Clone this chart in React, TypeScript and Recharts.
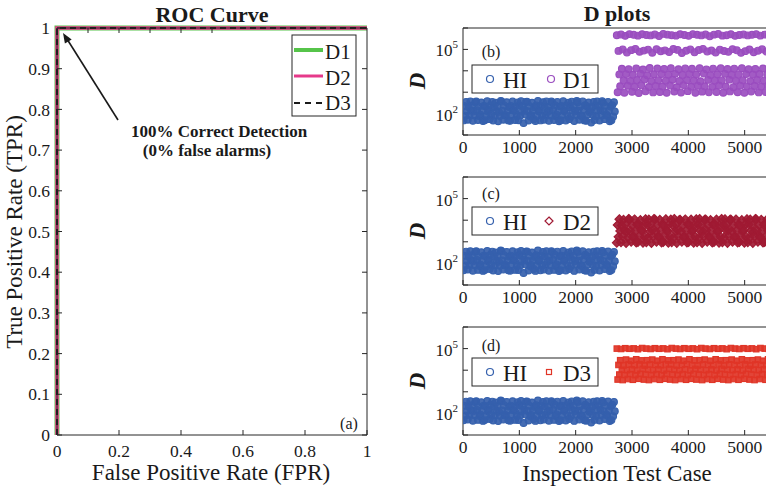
import { LineChart, Line, ScatterChart, Scatter, XAxis, YAxis } from "recharts";

const SERIF = '"Liberation Serif", "Times New Roman", serif';
const AXIS = "#262626";
const INK = "#1a1a1a";

// ROC curves (a)
const FPR = [0, 0, 1];
const TPR_D1 = [0, 1, 1];
const TPR_D2 = [0, 1, 1];
const TPR_D3 = [0, 1, 1];
const ROC_X_TICKS = [0, 0.2, 0.4, 0.6, 0.8, 1];
const ROC_Y_TICKS = [0, 0.1, 0.2, 0.3, 0.4, 0.5, 0.6, 0.7, 0.8, 0.9, 1];

// D plots (b)-(d), one value every CASE_STEP test cases
const CASE_TICKS = [0, 1000, 2000, 3000, 4000, 5000];
const D_TICKS = [10, 1e2, 1e3, 1e4, 1e5, 1e6];
const D_LABELED = [1e2, 1e5];
const HI_FIRST_CASE = 10;
const D_FIRST_CASE = 2730;
const CASE_STEP = 15;

const HI = [
  48, 225, 80, 350, 130, 52, 205, 85, 370, 138,
  240, 46, 128, 82, 340, 365, 145, 50, 212, 76,
  88, 330, 135, 45, 230, 49, 218, 74, 380, 125,
  150, 55, 250, 90, 350, 47, 200, 80, 320, 132,
  225, 44, 120, 78, 395, 370, 138, 52, 240, 85,
  82, 340, 128, 48, 205, 46, 230, 88, 365, 145,
  135, 50, 212, 76, 330, 49, 250, 80, 380, 125,
  218, 36, 150, 90, 350, 360, 130, 47, 225, 74,
  85, 320, 138, 55, 200, 45, 240, 82, 395, 128,
  145, 48, 230, 78, 340, 52, 205, 88, 370, 120,
  212, 46, 135, 80, 365, 330, 150, 50, 250, 76,
  90, 350, 125, 44, 218, 49, 225, 85, 380, 132,
  138, 47, 240, 82, 320, 55, 200, 74, 360, 145,
  230, 45, 128, 88, 395, 340, 135, 52, 212, 80,
  78, 370, 150, 48, 250, 46, 218, 90, 330, 120,
  130, 38, 205, 85, 350, 50, 240, 76, 365, 138,
  225, 47, 145, 82, 380, 320, 128, 55, 230, 88,
  80, 355, 135, 44, 212, 49, 250, 74, 340, 125,
];

const D1 = [
  4.6e5, 1000, 8.5e4, 6800, 1900, 5.0e5, 12500, 1.0e5, 3500, 950,
  4.3e5, 7000, 7.2e4, 2000, 12000, 5.2e5, 3400, 9.2e4, 1050, 6500,
  4.8e5, 1800, 1.05e5, 13000, 3700, 4.4e5, 920, 7.8e4, 7300, 2100,
  5.1e5, 11500, 8.8e4, 3900, 1100, 4.7e5, 6200, 9.8e4, 1750, 13500,
  4.5e5, 3300, 7.0e4, 980, 6900, 5.0e5, 1950, 1.02e5, 12800, 3600,
  4.2e5, 1020, 8.2e4, 7100, 1850, 5.3e5, 12200, 9.0e4, 3450, 940,
  4.9e5, 6600, 7.5e4, 2050, 13200, 4.6e5, 3800, 1.04e5, 1080, 7200,
  4.4e5, 1700, 9.5e4, 11800, 3350, 5.1e5, 960, 6.8e4, 6400, 2150,
  4.7e5, 12900, 8.6e4, 3650, 1120, 4.3e5, 7000, 1.0e5, 1800, 12400,
  5.2e5, 3500, 7.3e4, 930, 6700, 4.8e5, 2000, 9.3e4, 13400, 3250,
  4.5e5, 1060, 1.06e5, 7400, 1900, 5.0e5, 11700, 8.0e4, 3750, 990,
  4.1e5, 6300, 8.9e4, 1780, 12600, 4.9e5, 3450, 7.1e4, 1030, 6900,
  5.3e5, 2080, 9.7e4, 13100, 3550, 4.4e5, 950, 8.4e4, 7200, 1850,
  4.6e5, 12100, 7.7e4, 3850, 1090, 5.1e5, 6500, 1.03e5, 1720, 12700,
  4.3e5, 3400, 9.1e4, 1000, 6800, 4.7e5, 2020, 6.9e4, 13300, 3600,
  5.0e5, 940, 8.3e4, 7000, 1880, 4.5e5, 11900, 9.9e4, 3300, 1070,
  4.8e5, 6700, 7.4e4, 1950, 12300, 5.2e5, 3700, 8.7e4, 980, 7100,
  4.4e5, 1820, 1.01e5, 12800, 3450, 4.9e5, 1010, 7.9e4, 6600, 2060,
  4.6e5, 13000, 9.4e4, 3600, 1050, 5.0e5,
];

const D2 = [
  900, 6000, 1700, 11200, 3200, 950, 5700, 1800, 10500, 3400,
  6300, 880, 3000, 1600, 11500, 10800, 3300, 1000, 5800, 1650,
  1750, 11000, 3100, 920, 6200, 980, 6500, 1850, 10200, 3500,
  3200, 900, 5700, 1700, 11200, 950, 6300, 1600, 10800, 3000,
  5800, 880, 3400, 1800, 11500, 11000, 3100, 1000, 6000, 1750,
  1650, 10500, 3300, 920, 6500, 980, 5700, 1850, 11200, 3500,
  3000, 900, 6200, 1700, 10800, 950, 6000, 1600, 11500, 3200,
  6300, 880, 3400, 1800, 10200, 10500, 3100, 1000, 5800, 1650,
  1750, 11000, 3300, 920, 6500, 980, 6200, 1850, 10800, 3000,
  3500, 900, 5700, 1700, 11200, 950, 6300, 1600, 11500, 3200,
  5800, 880, 3100, 1800, 10500, 11000, 3400, 1000, 6000, 1750,
  1650, 10200, 3300, 920, 6200, 980, 6500, 1850, 10800, 3000,
  3200, 900, 5700, 1700, 11500, 950, 6000, 1600, 11200, 3500,
  6300, 880, 3400, 1800, 10500, 10800, 3100, 1000, 5800, 1650,
  1750, 11000, 3300, 920, 6200, 980, 5700, 1850, 10200, 3000,
  3500, 900, 6500, 1700, 11200, 950, 6300, 1600, 10800, 3200,
  5800, 880, 3000, 1800, 11500, 11000, 3400, 1000, 6000, 1750,
  1650, 10500, 3100, 920, 6200, 980, 6500, 1850, 11200, 3300,
  3200, 900, 5700, 1700, 10800, 950,
];

const D3 = [
  1.0e5, 3700, 17500, 6300, 29000, 9.6e4, 10500, 3500, 16500, 6000,
  1.04e5, 31000, 10000, 3900, 18500, 9.8e4, 6600, 27500, 11000, 3600,
  1.02e5, 17000, 5900, 32000, 9800, 9.4e4, 4000, 19000, 6800, 28500,
  1.06e5, 11500, 3700, 16500, 6300, 1.0e5, 29000, 10500, 3500, 18500,
  9.6e4, 6000, 31000, 10000, 3900, 1.04e5, 17500, 6600, 27500, 11000,
  9.8e4, 3600, 17000, 5900, 32000, 1.02e5, 9800, 4000, 19000, 6800,
  9.4e4, 28500, 11500, 3700, 18500, 1.06e5, 6300, 29000, 10500, 3500,
  1.0e5, 16500, 6000, 31000, 10000, 9.6e4, 3900, 17500, 6600, 27500,
  1.04e5, 11000, 3600, 19000, 5900, 9.8e4, 32000, 9800, 4000, 17000,
  1.02e5, 6800, 28500, 11500, 3700, 9.4e4, 16500, 6300, 29000, 10500,
  1.06e5, 3500, 18500, 6000, 31000, 1.0e5, 10000, 3900, 17500, 6600,
  9.6e4, 27500, 11000, 3600, 17000, 1.04e5, 5900, 32000, 9800, 4000,
  9.8e4, 19000, 6800, 28500, 11500, 1.02e5, 3700, 16500, 6300, 29000,
  9.4e4, 10500, 3500, 18500, 6000, 1.06e5, 31000, 10000, 3900, 17500,
  1.0e5, 6600, 27500, 11000, 3600, 9.6e4, 17000, 5900, 32000, 9800,
  1.04e5, 4000, 19000, 6800, 28500, 9.8e4, 11500, 3700, 16500, 6300,
  1.02e5, 29000, 10500, 3500, 18500, 9.4e4, 6000, 31000, 10000, 3900,
  1.06e5, 17500, 6600, 27500, 11000, 1.0e5, 3600, 17000, 5900, 32000,
  9.6e4, 9800, 4000, 19000, 6800, 1.04e5,
];

const GREEN = "#56c44a";
const PINK = "#e6398a";
const BLUE = "#3560ad";
const PURPLE = "#9a4dbf";
const DARKRED = "#a01a33";
const RED = "#e03527";

const rocData = FPR.map((f, i) => ({ fpr: f, d1: TPR_D1[i], d2: TPR_D2[i], d3: TPR_D3[i] }));
const toPoints = (vals: number[], first: number) =>
  vals.map((v, i) => ({ x: first + i * CASE_STEP, y: v }));
const hiPoints = toPoints(HI, HI_FIRST_CASE);

const noLabel = () => "";
const tickStyle = { fontFamily: SERIF, fontSize: 17.5, fill: INK };

function BottomTick({ x, y, payload }: any) {
  return (
    <text x={x} y={y} dy="0.71em" textAnchor="middle" style={tickStyle}>
      {payload.value}
    </text>
  );
}

function LeftTick({ x, y, payload }: any) {
  return (
    <text x={x} y={y} dy="0.35em" textAnchor="end" style={tickStyle}>
      {payload.value}
    </text>
  );
}

function PowTick({ x, y, payload }: any) {
  if (!D_LABELED.includes(payload.value)) return null;
  const exp = Math.round(Math.log10(payload.value));
  return (
    <text x={x} y={y + 7} textAnchor="end" style={{ ...tickStyle, fontSize: 17 }}>
      10<tspan dy={-8} style={{ fontSize: 11 }}>{exp}</tspan>
    </text>
  );
}

const circle = (color: string, r: number) => (p: any) => (
  <circle cx={p.cx} cy={p.cy} r={r} fill={color} fillOpacity={0.92} stroke={color} strokeWidth={1.1} />
);
const diamond = (color: string, r: number) => (p: any) => (
  <path
    d={`M${p.cx},${p.cy - r}L${p.cx + r},${p.cy}L${p.cx},${p.cy + r}L${p.cx - r},${p.cy}Z`}
    fill={color}
    fillOpacity={0.92}
    stroke={color}
    strokeWidth={1.1}
  />
);
const square = (color: string, s: number) => (p: any) => (
  <rect x={p.cx - s / 2} y={p.cy - s / 2} width={s} height={s} fill={color} fillOpacity={0.92} stroke={color} strokeWidth={1.1} />
);

// axes get 1px boxes (a 0px axis is not drawn); margins below account for it
function DPanel({ top, height, mTop, mBottom, series }: any) {
  return (
    <div style={{ position: "absolute", left: 380, top }}>
      <ScatterChart width={430} height={height} margin={{ top: mTop - 1, bottom: mBottom - 1, left: 82, right: 8 }}>
        <XAxis dataKey="x" type="number" domain={[0, 6000]} ticks={CASE_TICKS} interval={0} height={1}
          tickSize={-5} tickMargin={11} stroke={AXIS} tick={<BottomTick />} allowDataOverflow />
        <XAxis xAxisId="top" orientation="top" type="number" domain={[0, 6000]} ticks={CASE_TICKS} height={1}
          tickSize={-5} tickFormatter={noLabel} stroke={AXIS} allowDataOverflow />
        <YAxis dataKey="y" type="number" scale="log" domain={[10, 1e6]} ticks={D_TICKS} interval={0} width={1}
          tickSize={-5} tickMargin={10} stroke={AXIS} tick={<PowTick />} allowDataOverflow />
        <YAxis yAxisId="right" orientation="right" type="number" scale="log" domain={[10, 1e6]} ticks={D_TICKS} width={1}
          tickSize={-5} tickFormatter={noLabel} stroke={AXIS} allowDataOverflow />
        <Scatter data={hiPoints} shape={circle(BLUE, 3.4)} isAnimationActive={false} />
        {series}
      </ScatterChart>
    </div>
  );
}

function Overlay() {
  const t = { fontFamily: SERIF, fill: INK };
  const legendBox = (y: number, label: string, marker: any) => (
    <g>
      <rect x={472} y={y} width={126} height={28} fill="#fff" stroke={AXIS} strokeWidth={1} />
      <circle cx={490} cy={y + 14} r={3.5} fill="none" stroke={BLUE} strokeWidth={1.2} />
      <text x={503} y={y + 23} fontSize={23} {...t}>HI</text>
      {marker}
      <text x={563} y={y + 23} fontSize={23} {...t}>{label}</text>
    </g>
  );
  return (
    <svg width={766} height={489} style={{ position: "absolute", left: 0, top: 0, pointerEvents: "none" }}>
      <text x={212} y={22} textAnchor="middle" fontSize={22} fontWeight="bold" {...t}>ROC Curve</text>
      <text x={617} y={21} textAnchor="middle" fontSize={22} fontWeight="bold" {...t}>D plots</text>
      <text x={211} y={480} textAnchor="middle" fontSize={23} {...t}>False Positive Rate (FPR)</text>
      <text x={617} y={481} textAnchor="middle" fontSize={23} {...t}>Inspection Test Case</text>
      <text transform="translate(22,232) rotate(-90)" textAnchor="middle" fontSize={23} {...t}>True Positive Rate (TPR)</text>
      {[81, 231, 381].map((cy) => (
        <text key={cy} transform={`translate(425,${cy}) rotate(-90)`} textAnchor="middle" fontSize={23}
          fontStyle="italic" fontWeight="bold" {...t}>D</text>
      ))}

      <line x1={118} y1={120} x2={67} y2={39} stroke={INK} strokeWidth={1.6} />
      <polygon points="63,33 71.7,39.4 64.9,43.6" fill={INK} />
      <text x={219} y={137} textAnchor="middle" fontSize={17} fontWeight="bold" {...t}>100% Correct Detection</text>
      <text x={207} y={156} textAnchor="middle" fontSize={17} fontWeight="bold" {...t}>(0% false alarms)</text>
      <text x={349} y={429} textAnchor="middle" fontSize={16} {...t}>(a)</text>

      <rect x={292} y={35} width={64} height={81} fill="#fff" stroke={AXIS} strokeWidth={1} />
      <line x1={294} y1={50} x2={323} y2={50} stroke={GREEN} strokeWidth={4} />
      <text x={325} y={59} fontSize={21} {...t}>D1</text>
      <line x1={294} y1={76} x2={323} y2={76} stroke={PINK} strokeWidth={3} />
      <text x={325} y={85} fontSize={21} {...t}>D2</text>
      <line x1={294} y1={103} x2={323} y2={103} stroke={INK} strokeWidth={2} strokeDasharray="6 5" />
      <text x={325} y={110} fontSize={21} {...t}>D3</text>

      <text x={491} y={57} textAnchor="middle" fontSize={16} {...t}>(b)</text>
      <text x={491} y={199} textAnchor="middle" fontSize={16} {...t}>(c)</text>
      <text x={491} y={351} textAnchor="middle" fontSize={16} {...t}>(d)</text>

      {legendBox(65, "D1", <circle cx={551} cy={79} r={3.5} fill="none" stroke={PURPLE} strokeWidth={1.2} />)}
      {legendBox(207, "D2", <path d="M549,217L553,221L549,225L545,221Z" fill="none" stroke={DARKRED} strokeWidth={1.2} />)}
      {legendBox(358, "D3", <rect x={546.5} y={369.5} width={5} height={5} fill="none" stroke={RED} strokeWidth={1.2} />)}
    </svg>
  );
}

export default function App() {
  return (
    <div style={{ position: "fixed", left: 0, top: 0, width: 766, height: 489, overflow: "hidden", background: "#fff", fontFamily: SERIF }}>
      <div style={{ position: "absolute", left: 0, top: 0 }}>
        <LineChart width={380} height={489} data={rocData} margin={{ top: 27, right: 12, bottom: 53, left: 56 }}>
          <XAxis dataKey="fpr" type="number" domain={[0, 1]} ticks={ROC_X_TICKS} interval={0} height={1}
            tickSize={-5} tickMargin={15} stroke={AXIS} tick={<BottomTick />} />
          <XAxis xAxisId="top" orientation="top" type="number" domain={[0, 1]} ticks={ROC_X_TICKS} height={1}
            tickSize={-5} tickFormatter={noLabel} stroke={AXIS} allowDataOverflow />
          <YAxis type="number" domain={[0, 1]} ticks={ROC_Y_TICKS} interval={0} width={1}
            tickSize={-5} tickMargin={12} stroke={AXIS} tick={<LeftTick />} />
          <YAxis yAxisId="right" orientation="right" type="number" domain={[0, 1]} ticks={ROC_Y_TICKS} width={1}
            tickSize={-5} tickFormatter={noLabel} stroke={AXIS} allowDataOverflow />
          <Line dataKey="d1" type="linear" stroke={GREEN} strokeWidth={5} dot={false} isAnimationActive={false} />
          <Line dataKey="d2" type="linear" stroke={PINK} strokeWidth={3.5} dot={false} isAnimationActive={false} />
          <Line dataKey="d3" type="linear" stroke={INK} strokeWidth={2} strokeDasharray="6 4" dot={false} isAnimationActive={false} />
        </LineChart>
      </div>

      <DPanel top={0} height={160} mTop={28} mBottom={25}
        series={<Scatter data={toPoints(D1, D_FIRST_CASE)} shape={circle(PURPLE, 3.4)} isAnimationActive={false} />} />
      <DPanel top={150} height={160} mTop={27} mBottom={25}
        series={<Scatter data={toPoints(D2, D_FIRST_CASE)} shape={diamond(DARKRED, 4.4)} isAnimationActive={false} />} />
      <DPanel top={300} height={189} mTop={27} mBottom={54}
        series={<Scatter data={toPoints(D3, D_FIRST_CASE)} shape={square(RED, 5.5)} isAnimationActive={false} />} />

      <Overlay />
    </div>
  );
}
